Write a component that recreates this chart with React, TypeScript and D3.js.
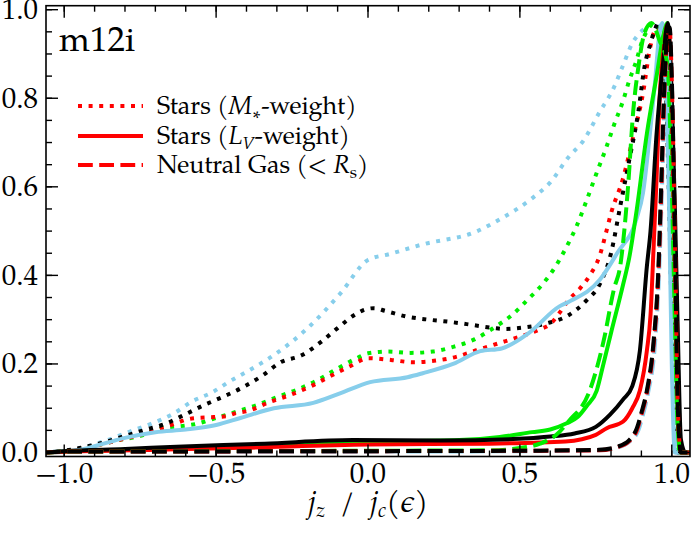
import React from 'react';
import * as d3 from 'd3';

type Pt = [number, number];

// j_z / j_c distributions
const skyDotted: Pt[] = [[-1.06,0],[-1.03,0.002],[-0.95,0.01],[-0.87,0.025],[-0.774,0.05],[-0.71,0.066],[-0.64,0.088],[-0.58,0.115],[-0.51,0.137],[-0.457,0.16],[-0.39,0.186],[-0.31,0.22],[-0.2,0.28],[-0.09,0.36],[0.0,0.435],[0.07,0.448],[0.18,0.47],[0.36,0.5],[0.43,0.525],[0.54,0.574],[0.6,0.61],[0.66,0.667],[0.71,0.705],[0.76,0.766],[0.81,0.825],[0.84,0.875],[0.87,0.924],[0.905,0.954],[0.95,0.97],[0.97,0.93],[0.985,0.8],[1.0,0.45],[1.01,0.15],[1.02,0],[1.06,0]];
const blackDotted: Pt[] = [[-1.06,0],[-1.0,0.004],[-0.95,0.01],[-0.88,0.021],[-0.81,0.035],[-0.74,0.05],[-0.67,0.064],[-0.605,0.085],[-0.54,0.107],[-0.47,0.128],[-0.41,0.148],[-0.345,0.175],[-0.29,0.203],[-0.217,0.22],[-0.158,0.248],[-0.1,0.281],[-0.046,0.31],[-0.013,0.322],[0.02,0.326],[0.056,0.32],[0.127,0.307],[0.2,0.3],[0.27,0.295],[0.344,0.288],[0.415,0.281],[0.45,0.279],[0.52,0.283],[0.59,0.292],[0.66,0.31],[0.72,0.344],[0.763,0.38],[0.8,0.45],[0.83,0.555],[0.86,0.66],[0.89,0.77],[0.91,0.87],[0.93,0.924],[0.944,0.954],[0.955,0.97],[0.975,0.9],[0.99,0.6],[1.0,0.3],[1.01,0.08],[1.02,0],[1.06,0]];
const greenDotted: Pt[] = [[-1.06,0],[-1.0,0.003],[-0.9,0.015],[-0.82,0.028],[-0.747,0.038],[-0.714,0.047],[-0.68,0.055],[-0.61,0.06],[-0.57,0.064],[-0.5,0.078],[-0.434,0.092],[-0.366,0.107],[-0.296,0.126],[-0.23,0.143],[-0.164,0.164],[-0.1,0.19],[-0.037,0.213],[0.0,0.224],[0.066,0.228],[0.14,0.225],[0.213,0.228],[0.283,0.239],[0.352,0.256],[0.415,0.282],[0.473,0.31],[0.524,0.344],[0.577,0.382],[0.62,0.423],[0.654,0.465],[0.686,0.51],[0.72,0.57],[0.752,0.63],[0.785,0.69],[0.81,0.74],[0.84,0.795],[0.86,0.84],[0.884,0.886],[0.9,0.924],[0.917,0.95],[0.94,0.968],[0.97,0.93],[0.99,0.85],[1.0,0.6],[1.01,0.25],[1.02,0.02],[1.03,0],[1.06,0]];
const redDotted: Pt[] = [[-1.06,0],[-1.0,0.003],[-0.9,0.015],[-0.82,0.028],[-0.75,0.04],[-0.7,0.05],[-0.64,0.064],[-0.58,0.077],[-0.507,0.08],[-0.467,0.082],[-0.434,0.089],[-0.4,0.093],[-0.32,0.115],[-0.256,0.13],[-0.19,0.149],[-0.128,0.171],[-0.062,0.194],[0.003,0.213],[0.076,0.209],[0.147,0.204],[0.217,0.207],[0.29,0.216],[0.357,0.231],[0.427,0.246],[0.497,0.261],[0.566,0.278],[0.6,0.29],[0.63,0.315],[0.66,0.344],[0.697,0.37],[0.73,0.4],[0.763,0.445],[0.785,0.5],[0.8,0.54],[0.84,0.62],[0.873,0.713],[0.906,0.814],[0.928,0.912],[0.95,0.957],[0.97,0.93],[0.985,0.8],[1.0,0.45],[1.01,0.15],[1.02,0],[1.06,0]];

const skySolid: Pt[] = [[-1.06,0],[-1.03,0.002],[-0.95,0.006],[-0.87,0.02],[-0.8,0.033],[-0.7,0.046],[-0.6,0.052],[-0.5,0.062],[-0.42,0.078],[-0.31,0.1],[-0.18,0.112],[-0.09,0.134],[0.007,0.159],[0.13,0.17],[0.18,0.179],[0.28,0.2],[0.37,0.229],[0.44,0.235],[0.53,0.27],[0.63,0.33],[0.66,0.34],[0.763,0.39],[0.82,0.45],[0.885,0.53],[0.905,0.585],[0.928,0.72],[0.944,0.83],[0.96,0.95],[0.968,0.97],[0.98,0.88],[0.99,0.6],[1.0,0.2],[1.01,0],[1.06,0]];
const blackSolid: Pt[] = [[-1.06,0],[-1.0,0.003],[-0.8,0.008],[-0.63,0.013],[-0.34,0.02],[-0.05,0.028],[0.24,0.027],[0.53,0.032],[0.6,0.036],[0.68,0.043],[0.75,0.058],[0.796,0.085],[0.84,0.12],[0.87,0.15],[0.895,0.23],[0.918,0.42],[0.93,0.5],[0.95,0.72],[0.97,0.87],[0.987,0.97],[1.0,0.8],[1.01,0.56],[1.02,0.27],[1.03,0.03],[1.045,0],[1.06,0]];
const greenSolid: Pt[] = [[-1.06,0],[-1.0,0.002],[-0.7,0.008],[-0.4,0.014],[-0.2,0.019],[0,0.024],[0.3,0.028],[0.434,0.035],[0.54,0.046],[0.6,0.052],[0.654,0.066],[0.69,0.08],[0.72,0.105],[0.753,0.14],[0.775,0.2],[0.8,0.27],[0.84,0.38],[0.86,0.44],[0.885,0.55],[0.918,0.72],[0.95,0.85],[0.975,0.95],[0.985,0.97],[0.995,0.85],[1.005,0.55],[1.015,0.2],[1.025,0],[1.06,0]];
const redSolid: Pt[] = [[-1.06,0],[-1.0,0.002],[-0.7,0.006],[-0.4,0.011],[0,0.018],[0.4,0.02],[0.65,0.025],[0.75,0.04],[0.786,0.055],[0.84,0.07],[0.87,0.1],[0.895,0.14],[0.918,0.23],[0.93,0.31],[0.94,0.46],[0.95,0.62],[0.96,0.8],[0.977,0.93],[0.985,0.965],[0.995,0.9],[1.005,0.6],[1.015,0.25],[1.025,0.02],[1.035,0],[1.06,0]];

const skyDashed: Pt[] = [[-1.06,0],[-1.0,0.001],[0,0.002],[0.5,0.003],[0.76,0.005],[0.82,0.011],[0.86,0.024],[0.89,0.05],[0.905,0.085],[0.922,0.135],[0.944,0.24],[0.958,0.4],[0.968,0.6],[0.977,0.8],[0.985,0.9],[0.99,0.9],[0.997,0.7],[1.003,0.4],[1.008,0.1],[1.013,0],[1.06,0]];
const greenDashed: Pt[] = [[-1.06,0],[-1.0,0.002],[0,0.004],[0.4,0.005],[0.5,0.01],[0.566,0.02],[0.62,0.04],[0.66,0.07],[0.73,0.14],[0.775,0.25],[0.81,0.37],[0.83,0.42],[0.856,0.6],[0.873,0.77],[0.89,0.87],[0.91,0.947],[0.933,0.97],[0.96,0.93],[0.985,0.88],[1.0,0.6],[1.01,0.3],[1.02,0.05],[1.03,0],[1.06,0]];
const redDashed: Pt[] = [[-1.06,0],[-1.0,0.002],[0,0.003],[0.5,0.004],[0.76,0.005],[0.82,0.012],[0.86,0.026],[0.885,0.05],[0.9,0.085],[0.918,0.135],[0.94,0.24],[0.955,0.39],[0.965,0.58],[0.975,0.8],[0.985,0.93],[0.993,0.955],[1.0,0.84],[1.01,0.5],[1.02,0.1],[1.03,0],[1.06,0]];
const blackDashed: Pt[] = [[-1.06,0],[-1.0,0.002],[0,0.003],[0.5,0.004],[0.76,0.006],[0.82,0.013],[0.86,0.028],[0.885,0.055],[0.9,0.09],[0.918,0.14],[0.94,0.25],[0.955,0.4],[0.965,0.6],[0.975,0.82],[0.985,0.94],[0.993,0.96],[1.0,0.85],[1.01,0.5],[1.02,0.1],[1.03,0],[1.06,0]];

const xTicks = [-1.0, -0.5, 0.0, 0.5, 1.0];
const yTicks = [0.0, 0.2, 0.4, 0.6, 0.8, 1.0];

const SKY = '#87ceeb';
const GREEN = '#00ee00';
const RED = '#ff0000';
const BLACK = '#000000';

const DOT = '4,6.6';
const DASH = '14.8,6.4';

const W = 692;
const H = 536;
const FONT = "'TeX Gyre Pagella'";

const x = d3.scaleLinear().domain([-1.06, 1.06]).range([46, 690]);
const y = d3.scaleLinear().domain([-0.009, 1.009]).range([456.5, 5.7]);

const line = d3.line<Pt>()
  .x(d => x(d[0]))
  .y(d => y(d[1]))
  .curve(d3.curveMonotoneX);

const curves: { data: Pt[]; color: string; dash?: string }[] = [
  { data: skyDotted, color: SKY, dash: DOT },
  { data: greenDotted, color: GREEN, dash: DOT },
  { data: redDotted, color: RED, dash: DOT },
  { data: blackDotted, color: BLACK, dash: DOT },
  { data: skySolid, color: SKY },
  { data: greenSolid, color: GREEN },
  { data: redSolid, color: RED },
  { data: blackSolid, color: BLACK },
  { data: skyDashed, color: SKY, dash: DASH },
  { data: greenDashed, color: GREEN, dash: DASH },
  { data: redDashed, color: RED, dash: DASH },
  { data: blackDashed, color: BLACK, dash: DASH },
];

const txt = (size: number, extra: React.CSSProperties = {}): React.CSSProperties => ({
  fontFamily: FONT, fontSize: size, ...extra,
});

const App: React.FC = () => {
  const [x0, x1] = x.range();
  const [y0, y1] = y.range();
  const xMinor = d3.range(-10, 11).map(i => i / 10);
  const yMinor = d3.range(0, 21).map(i => i / 20);

  const legend = [
    { dash: DOT, y: 106 },
    { dash: undefined, y: 136 },
    { dash: DASH, y: 165 },
  ];
  const it = { fontStyle: 'italic' } as React.CSSProperties;

  return (
    <div style={{ position: 'absolute', left: 0, top: 0 }}>
      <svg width={W} height={H} style={{ display: 'block', background: '#fff' }}>
        <defs>
          <clipPath id="plot">
            <rect x={x0} y={y1} width={x1 - x0} height={y0 - y1} />
          </clipPath>
        </defs>

        <g clipPath="url(#plot)" fill="none">
          {curves.map((c, i) => (
            <path key={i} d={line(c.data) || ''} stroke={c.color} strokeWidth={4}
              strokeDasharray={c.dash} strokeLinejoin="round" />
          ))}
        </g>

        {/* ticks */}
        <g stroke="#000" strokeWidth={1.4}>
          {xMinor.map(v => (
            <g key={'xm' + v}>
              <line x1={x(v)} x2={x(v)} y1={y0} y2={y0 - 6} />
              <line x1={x(v)} x2={x(v)} y1={y1} y2={y1 + 6} />
            </g>
          ))}
          {xTicks.map(v => (
            <g key={'xM' + v}>
              <line x1={x(v)} x2={x(v)} y1={y0} y2={y0 - 12} />
              <line x1={x(v)} x2={x(v)} y1={y1} y2={y1 + 12} />
            </g>
          ))}
          {yMinor.map(v => (
            <g key={'ym' + v}>
              <line x1={x0} x2={x0 + 6} y1={y(v)} y2={y(v)} />
              <line x1={x1} x2={x1 - 6} y1={y(v)} y2={y(v)} />
            </g>
          ))}
          {yTicks.map(v => (
            <g key={'yM' + v}>
              <line x1={x0} x2={x0 + 12} y1={y(v)} y2={y(v)} />
              <line x1={x1} x2={x1 - 12} y1={y(v)} y2={y(v)} />
            </g>
          ))}
        </g>

        <rect x={x0} y={y1} width={x1 - x0} height={y0 - y1} fill="none" stroke="#000" strokeWidth={1.6} />

        {/* tick labels */}
        {xTicks.map(v => (
          <text key={'xl' + v} x={x(v)} y={483} textAnchor="middle" style={txt(29)}>
            {v < 0 ? '\u2212' + Math.abs(v).toFixed(1) : v.toFixed(1)}
          </text>
        ))}
        {yTicks.map(v => (
          <text key={'yl' + v} x={38} y={y(v) + 9.5} textAnchor="end" style={txt(29)}>{v.toFixed(1)}</text>
        ))}

        <text x={59} y={51} style={txt(35)}>m12i</text>

        {/* legend */}
        {legend.map((l, i) => (
          <line key={'lg' + i} x1={78} x2={143} y1={l.y} y2={l.y} stroke={RED} strokeWidth={4}
            strokeDasharray={l.dash} />
        ))}
        <text x={157} y={106 + 8} style={txt(25)}>
          Stars (<tspan style={it}>M</tspan><tspan style={{ fontSize: 17 }} dy={5}>{'\u2217'}</tspan><tspan dy={-5}>-weight)</tspan>
        </text>
        <text x={157} y={136 + 8} style={txt(25)}>
          Stars (<tspan style={it}>L</tspan><tspan style={{ fontSize: 17, fontStyle: 'italic' }} dy={5}>V</tspan><tspan dy={-5}>-weight)</tspan>
        </text>
        <text x={157} y={165 + 8} style={txt(25)}>
          Neutral Gas (&lt; <tspan style={it}>R</tspan><tspan style={{ fontSize: 17 }} dy={5}>s</tspan><tspan dy={-5}>)</tspan>
        </text>

        {/* x label */}
        <text x={368} y={512} style={txt(30, { whiteSpace: 'pre' })} textAnchor="middle">
          <tspan style={it}>j</tspan><tspan style={{ fontSize: 20, fontStyle: 'italic' }} dy={5}>z</tspan>
          <tspan dy={-5}>{'  /  '}</tspan><tspan style={it}>j</tspan><tspan style={{ fontSize: 20, fontStyle: 'italic' }} dy={5}>c</tspan>
          <tspan dy={-5}>(</tspan><tspan style={it}>{'\u03f5'}</tspan><tspan>)</tspan>
        </text>
      </svg>
    </div>
  );
};

export default App;
